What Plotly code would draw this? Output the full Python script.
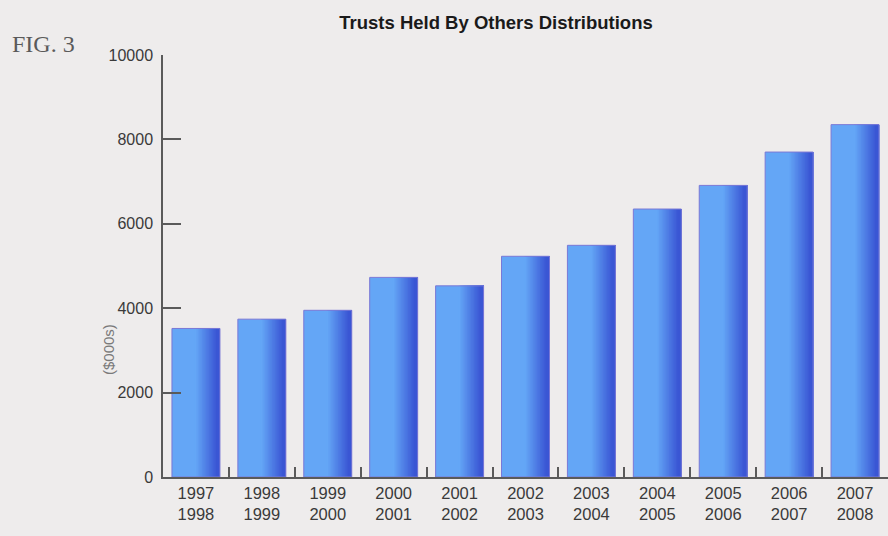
import plotly.graph_objects as go

# ---- data ----
categories = ["1997<br>1998", "1998<br>1999", "1999<br>2000", "2000<br>2001",
              "2001<br>2002", "2002<br>2003", "2003<br>2004", "2004<br>2005",
              "2005<br>2006", "2006<br>2007", "2007<br>2008"]
values = [3520, 3740, 3950, 4730, 4530, 5230, 5490, 6350, 6910, 7700, 8350]
y_ticks = [0, 2000, 4000, 6000, 8000, 10000]
y_tick_labels = ["0", "2000", "4000", "6000", "8000", "10000"]

title_text = "Trusts Held By Others Distributions"
y_title = "($000s)"
fig_label = "FIG. 3"

# ---- style ----
BG = "#eeecec"
AXIS = "#5a5a5a"
LIGHT = (100, 166, 246)
DARK = (58, 86, 212)
OUTLINE = "#7a78d6"
SANS = "Liberation Sans, Arial, Helvetica, sans-serif"

L, R, T, B = 163, 0, 55, 59
W, H = 888, 536
pw = W - L - R
ph = H - T - B

def px_to_paper(px, py):
    return (px - L) / pw, (H - B - py) / ph

BW = 0.728

fig = go.Figure()
fig.add_trace(go.Bar(x=categories, y=values, width=BW,
                     marker=dict(color="rgb(%d,%d,%d)" % LIGHT, line=dict(width=0)),
                     showlegend=False, hoverinfo="skip"))

steps = 16
for k in range(steps):
    t = k / (steps - 1)
    start = 0.48 + 0.44 * t
    c = tuple(int(round(LIGHT[i] + (DARK[i] - LIGHT[i]) * t)) for i in range(3))
    fig.add_trace(go.Bar(x=categories, y=values, width=BW * (1 - start),
                         offset=-BW / 2 + BW * start,
                         marker=dict(color="rgb(%d,%d,%d)" % c, line=dict(width=0)),
                         showlegend=False, hoverinfo="skip"))

# outline on top
fig.add_trace(go.Bar(x=categories, y=values, width=BW,
                     marker=dict(color="rgba(0,0,0,0)", line=dict(color=OUTLINE, width=1)),
                     showlegend=False, hoverinfo="skip"))

fig.update_layout(
    width=W, height=H,
    margin=dict(l=L, r=R, t=T, b=B),
    paper_bgcolor=BG, plot_bgcolor=BG,
    barmode="overlay",
    title=dict(text="<b>%s</b>" % title_text, xref="container", yref="container",
               x=496 / W, y=1 - 23 / H, xanchor="center", yanchor="middle",
               font=dict(family=SANS, size=18.5, color="#1a1a1a")),
    xaxis=dict(type="category", showline=True, linecolor=AXIS, linewidth=1.5,
               ticks="inside", tickson="boundaries", ticklen=10, tickwidth=1.5,
               tickcolor=AXIS, showgrid=False, zeroline=False,
               tickfont=dict(family=SANS, size=16.5, color="#3a3a3a"),
               range=[-0.5, len(categories) - 0.5]),
    yaxis=dict(range=[0, 10000], tickvals=y_ticks, ticktext=y_tick_labels,
               showline=True, linecolor=AXIS,
               linewidth=1.5, ticks="inside", ticklen=18, tickwidth=1.5,
               tickcolor=AXIS, showgrid=False, zeroline=False, ticklabelstandoff=5,
               tickfont=dict(family=SANS, size=16, color="#3a3a3a")),
)

fx, fy = px_to_paper(10, 44)
fig.add_annotation(text=fig_label, xref="paper", yref="paper", x=fx, y=fy,
                   xanchor="left", yanchor="middle", showarrow=False,
                   font=dict(family="Liberation Serif, DejaVu Serif, serif", size=24, color="#5a5a5a"))

ax, ay = px_to_paper(108, 350)
fig.add_annotation(text=y_title, xref="paper", yref="paper", x=ax, y=ay,
                   xanchor="center", yanchor="middle", textangle=-90, showarrow=False,
                   font=dict(family=SANS, size=15, color="#7a7a7a"))

fig.write_html("out.html")
